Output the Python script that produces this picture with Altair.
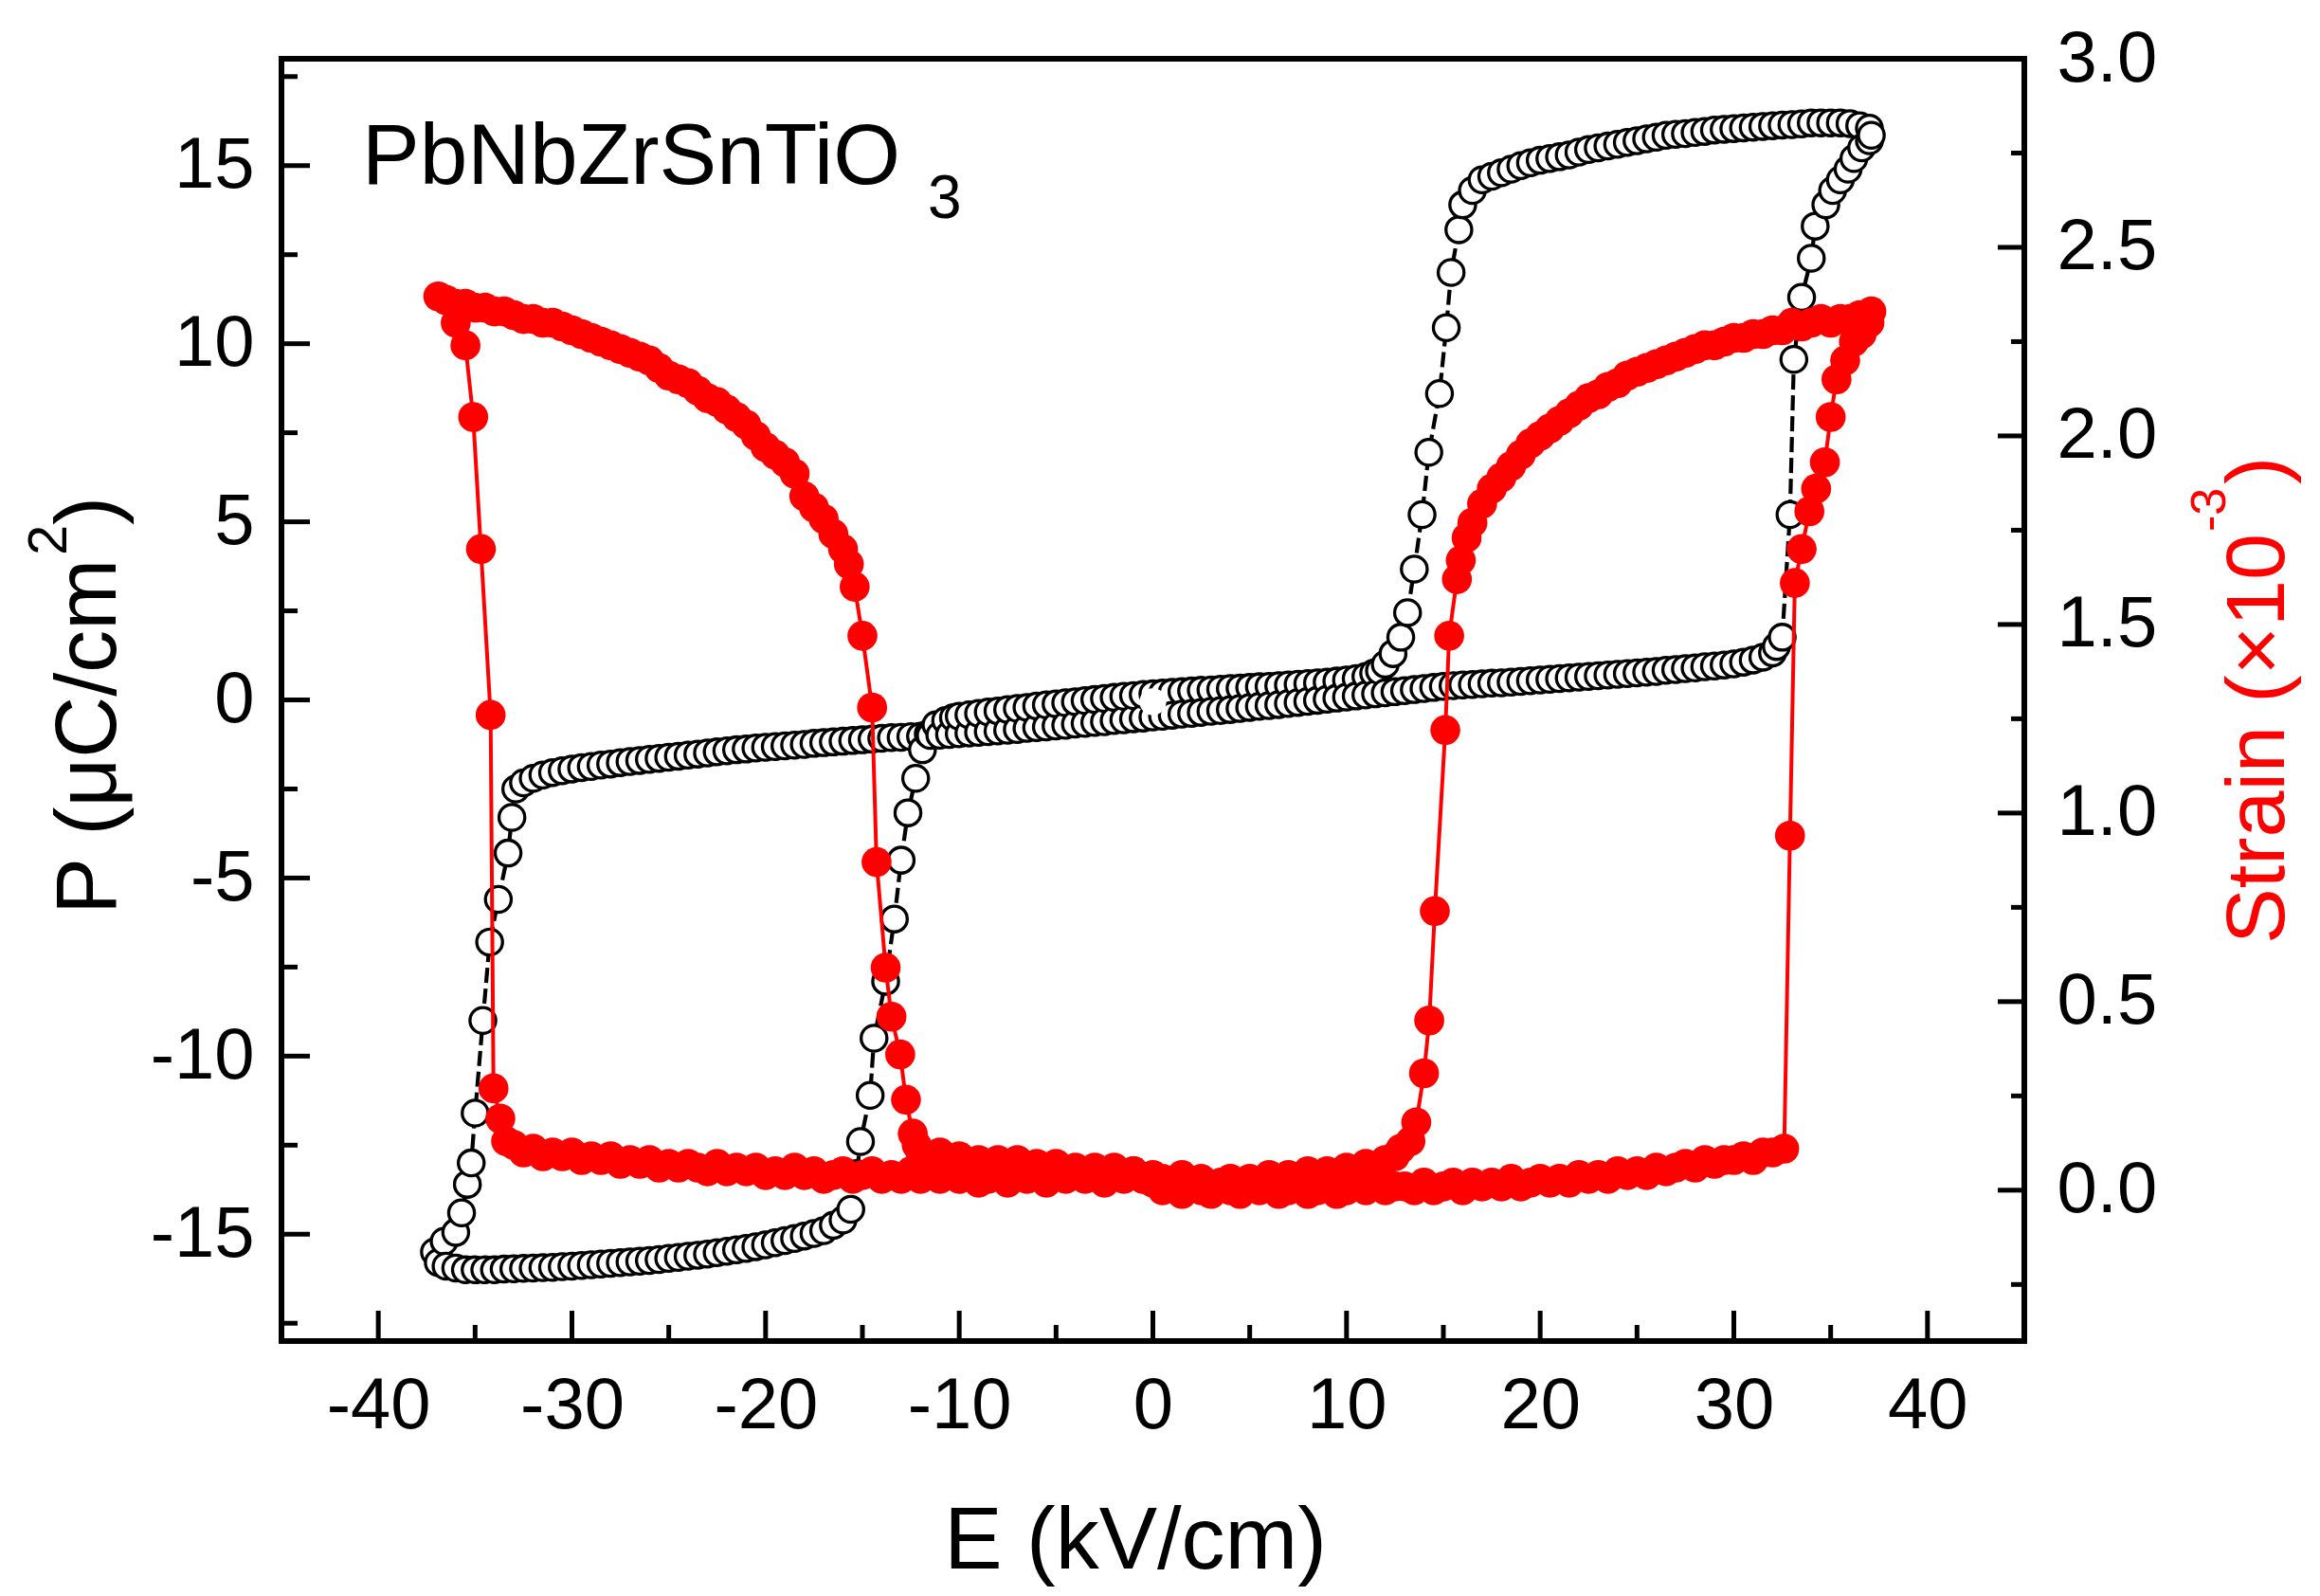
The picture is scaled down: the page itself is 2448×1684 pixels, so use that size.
import altair as alt
import pandas as pd

# ---------------- P-E loop (black open circles), path order ----------------
P_BAND_A_RIGHT = [(0, 0.17), (0.5, 0.19), (1, 0.21), (1.5, 0.23), (2, 0.25), (2.5, 0.27), (3, 0.28),
                  (3.5, 0.30), (4, 0.32), (4.5, 0.33), (5, 0.35), (5.5, 0.37), (6, 0.38), (6.5, 0.40),
                  (7, 0.42), (7.5, 0.44), (8, 0.46), (8.5, 0.48), (9, 0.50), (9.5, 0.53), (10, 0.56),
                  (10.5, 0.60), (11, 0.66), (11.4, 0.75)]
P_RIGHT_INNER = [(11.7, 0.82), (12.0, 1.0), (12.4, 1.3), (12.8, 1.76), (13.15, 2.45), (13.5, 3.67),
                 (13.9, 5.2), (14.25, 6.95), (14.8, 8.6), (15.15, 10.45), (15.4, 12.0), (15.8, 13.2),
                 (16.0, 13.9), (16.5, 14.3)]
P_TOP = [(17, 14.6), (17.5, 14.7), (18, 14.8), (18.5, 14.9), (19, 15.0), (19.5, 15.08), (20, 15.15),
         (20.5, 15.2), (21, 15.25), (21.5, 15.3), (22, 15.38), (22.5, 15.45), (23, 15.5), (23.5, 15.55),
         (24, 15.6), (24.5, 15.65), (25, 15.7), (25.5, 15.75), (26, 15.8), (26.5, 15.85), (27, 15.88),
         (27.5, 15.9), (28, 15.93), (28.5, 15.96), (29, 16.0), (29.5, 16.02), (30, 16.04), (30.5, 16.06),
         (31, 16.08), (31.5, 16.1), (32, 16.12), (32.5, 16.14), (33, 16.15), (33.5, 16.17), (34, 16.2),
         (34.5, 16.2), (35, 16.2), (35.5, 16.2), (36, 16.18), (36.5, 16.12), (37, 16.05)]
P_RIGHT_OUTER = [(37.1, 15.85), (37.0, 15.7), (36.6, 15.5), (36.2, 15.2), (35.9, 14.9), (35.5, 14.6),
                 (35.1, 14.3), (34.75, 13.9), (34.2, 13.3), (34.0, 12.4), (33.5, 11.3), (33.1, 9.56),
                 (32.9, 5.2), (32.5, 1.76)]
P_BAND_B = [(32.2, 1.5), (32, 1.32), (31.5, 1.2), (31, 1.12), (30.5, 1.06), (30, 1.01), (29.5, 0.98),
            (29, 0.95), (28.5, 0.93), (28, 0.9), (27.5, 0.88), (27, 0.85), (26.5, 0.83), (26, 0.8),
            (25.5, 0.78), (25, 0.76), (24.5, 0.74), (24, 0.72), (23.5, 0.7), (23, 0.68), (22.5, 0.66),
            (22, 0.64), (21.5, 0.62), (21, 0.6), (20.5, 0.58), (20, 0.56), (19.5, 0.54), (19, 0.52),
            (18.5, 0.5), (18, 0.48), (17.5, 0.47), (17, 0.45), (16.5, 0.43), (16, 0.42), (15.5, 0.4),
            (15, 0.38), (14.5, 0.35), (14, 0.32), (13.5, 0.29), (13, 0.26), (12.5, 0.23), (12, 0.2),
            (11.5, 0.17), (11, 0.14), (10.5, 0.11), (10, 0.08), (9.5, 0.05), (9, 0.02), (8.5, -0.01),
            (8, -0.04), (7.5, -0.07), (7, -0.1), (6.5, -0.13), (6, -0.16), (5.5, -0.18), (5, -0.21),
            (4.5, -0.24), (4, -0.27), (3.5, -0.3), (3, -0.32), (2.5, -0.35), (2, -0.38), (1.5, -0.4),
            (1, -0.43), (0.5, -0.46), (0, -0.48), (-0.5, -0.51), (-1, -0.53), (-1.5, -0.56), (-2, -0.58),
            (-2.5, -0.61), (-3, -0.63), (-3.5, -0.66), (-4, -0.68), (-4.5, -0.71), (-5, -0.73),
            (-5.5, -0.76), (-6, -0.78), (-6.5, -0.8), (-7, -0.83), (-7.5, -0.85), (-8, -0.87),
            (-8.5, -0.89), (-9, -0.91), (-9.5, -0.93), (-10, -0.95), (-10.5, -0.97), (-11, -0.99),
            (-11.5, -1.0), (-12, -1.02), (-12.5, -1.03), (-13, -1.05), (-13.5, -1.06), (-14, -1.08),
            (-14.5, -1.1), (-15, -1.12), (-15.5, -1.14), (-16, -1.16), (-16.5, -1.18), (-17, -1.2),
            (-17.5, -1.22), (-18, -1.25), (-18.5, -1.27), (-19, -1.29), (-19.5, -1.31), (-20, -1.33),
            (-20.5, -1.35), (-21, -1.38), (-21.5, -1.4), (-22, -1.43), (-22.5, -1.46), (-23, -1.49),
            (-23.5, -1.52), (-24, -1.55), (-24.5, -1.58), (-25, -1.61), (-25.5, -1.64), (-26, -1.67),
            (-26.5, -1.7), (-27, -1.73), (-27.5, -1.76), (-28, -1.8), (-28.5, -1.83), (-29, -1.87),
            (-29.5, -1.9), (-30, -1.94), (-30.5, -1.99), (-31, -2.04), (-31.5, -2.11), (-32, -2.2),
            (-32.5, -2.33), (-32.9, -2.5)]
P_LEFT_OUTER = [(-33.1, -3.3), (-33.3, -4.3), (-33.8, -5.6), (-34.25, -6.8), (-34.6, -9.0), (-35.0, -11.6),
                (-35.2, -13.0), (-35.4, -13.6), (-35.7, -14.4), (-36.0, -14.95), (-36.6, -15.2), (-37.1, -15.5)]
P_BOTTOM = [(-36.9, -15.8), (-36.5, -15.9), (-36, -15.95), (-35.5, -16.0), (-35, -16.0), (-34.5, -16.0),
            (-34, -16.0), (-33.5, -15.98), (-33, -15.97), (-32.5, -15.96), (-32, -15.95), (-31.5, -15.94),
            (-31, -15.93), (-30.5, -15.91), (-30, -15.9), (-29.5, -15.88), (-29, -15.86), (-28.5, -15.84),
            (-28, -15.82), (-27.5, -15.8), (-27, -15.78), (-26.5, -15.76), (-26, -15.74), (-25.5, -15.71),
            (-25, -15.68), (-24.5, -15.65), (-24, -15.62), (-23.5, -15.59), (-23, -15.56), (-22.5, -15.52),
            (-22, -15.48), (-21.5, -15.44), (-21, -15.4), (-20.5, -15.35), (-20, -15.3), (-19.5, -15.24),
            (-19, -15.18), (-18.5, -15.12), (-18, -15.05), (-17.5, -14.98), (-17, -14.9), (-16.5, -14.75),
            (-16, -14.6)]
P_LEFT_INNER = [(-15.6, -14.3), (-15.3, -13.3), (-15.1, -12.4), (-14.6, -11.1), (-14.4, -9.5), (-13.8, -7.9),
                (-13.35, -6.15), (-13.0, -4.5), (-12.65, -3.17), (-12.25, -2.2), (-11.9, -1.4),
                (-11.6, -0.95), (-11.2, -0.7)]
P_BAND_A_LEFT = [(-10.7, -0.58), (-10.3, -0.5), (-10, -0.46), (-9.5, -0.42), (-9, -0.38), (-8.5, -0.34),
                 (-8, -0.31), (-7.5, -0.27), (-7, -0.24), (-6.5, -0.21), (-6, -0.17), (-5.5, -0.14),
                 (-5, -0.11), (-4.5, -0.08), (-4, -0.05), (-3.5, -0.02), (-3, 0.01), (-2.5, 0.04),
                 (-2, 0.07), (-1.5, 0.1), (-1, 0.12), (-0.5, 0.15)]
P_START = [(0, -0.05)]

# ---------------- Strain (red filled circles), path order ----------------
S_BOTTOM_UP = [(0, 0.02), (0.5, 0.0), (1, 0.01), (1.5, -0.01), (2, 0.01), (2.5, 0.0), (3, -0.01), (3.5, 0.01),
               (4, 0.0), (4.5, -0.01), (5, 0.01), (5.5, 0.0), (6, 0.01), (6.5, -0.01), (7, 0.0), (7.5, 0.01),
               (8, -0.01), (8.5, 0.0), (9, 0.01), (9.5, -0.01), (10, 0.0), (10.5, 0.01), (11, 0.0),
               (11.5, 0.02), (12, 0.0), (12.5, 0.01), (13, 0.01), (13.5, 0.0), (14, 0.02), (14.5, 0.0),
               (15, 0.01), (15.5, 0.02), (16, 0.0), (16.5, 0.02), (17, 0.01), (17.5, 0.02), (18, 0.01),
               (18.5, 0.03), (19, 0.01), (19.5, 0.02), (20, 0.03), (20.5, 0.02), (21, 0.03), (21.5, 0.02),
               (22, 0.04), (22.5, 0.03), (23, 0.04), (23.5, 0.03), (24, 0.05), (24.5, 0.04), (25, 0.05),
               (25.5, 0.04), (26, 0.06), (26.5, 0.05), (27, 0.06), (27.5, 0.07), (28, 0.06), (28.5, 0.08),
               (29, 0.07), (29.5, 0.08), (30, 0.08), (30.5, 0.09), (31, 0.08), (31.5, 0.1), (32, 0.1),
               (32.6, 0.11)]
S_RIGHT_OUTER = [(32.9, 0.94), (33.15, 1.61), (33.5, 1.70), (33.9, 1.8), (34.25, 1.86), (34.7, 1.93),
                 (35.0, 2.05), (35.3, 2.15), (35.75, 2.2), (36.2, 2.25), (36.6, 2.27), (37.0, 2.3), (37.1, 2.33)]
S_RIGHT_UPPER = [(36.8, 2.31), (36.5, 2.32), (36, 2.31), (35.5, 2.31), (35, 2.3), (34.5, 2.31), (34, 2.3),
                 (33.5, 2.29), (33, 2.3), (32.5, 2.28), (32, 2.28), (31.5, 2.27), (31, 2.27), (30.5, 2.26),
                 (30, 2.26), (29.5, 2.25), (29, 2.24), (28.5, 2.24), (28, 2.23), (27.5, 2.22), (27, 2.21),
                 (26.5, 2.2), (26, 2.19), (25.5, 2.18), (25, 2.17), (24.5, 2.16), (24, 2.14), (23.5, 2.13),
                 (23, 2.11), (22.5, 2.1), (22, 2.08), (21.5, 2.06), (21, 2.04), (20.5, 2.02), (20, 2.0),
                 (19.5, 1.98), (19, 1.95), (18.5, 1.92), (18, 1.89), (17.5, 1.86), (17, 1.82), (16.5, 1.77),
                 (16.2, 1.73), (15.9, 1.67), (15.7, 1.62)]
S_RIGHT_DROP = [(15.3, 1.47), (15.1, 1.22), (14.56, 0.74), (14.27, 0.45), (14.0, 0.31), (13.6, 0.18),
                (13.3, 0.13)]
S_BOTTOM_DOWN = [(12.8, 0.11), (12.5, 0.09), (12, 0.08), (11.5, 0.06), (11, 0.07), (10.5, 0.05), (10, 0.06),
                 (9.5, 0.04), (9, 0.05), (8.5, 0.03), (8, 0.05), (7.5, 0.03), (7, 0.04), (6.5, 0.02),
                 (6, 0.04), (5.5, 0.02), (5, 0.03), (4.5, 0.01), (4, 0.03), (3.5, 0.02), (3, 0.01),
                 (2.5, 0.03), (2, 0.02), (1.5, 0.04), (1, 0.02), (0.5, 0.03), (0, 0.04), (-0.5, 0.03),
                 (-1, 0.05), (-1.5, 0.03), (-2, 0.04), (-2.5, 0.02), (-3, 0.04), (-3.5, 0.03), (-4, 0.05),
                 (-4.5, 0.03), (-5, 0.04), (-5.5, 0.02), (-6, 0.04), (-6.5, 0.03), (-7, 0.05), (-7.5, 0.02),
                 (-8, 0.04), (-8.5, 0.03), (-9, 0.02), (-9.5, 0.04), (-10, 0.03), (-10.5, 0.05), (-11, 0.03),
                 (-11.5, 0.04), (-12, 0.03), (-12.5, 0.05), (-13, 0.03), (-13.5, 0.04), (-14, 0.03),
                 (-14.5, 0.05), (-15, 0.04), (-15.5, 0.03), (-16, 0.05), (-16.5, 0.04), (-17, 0.03),
                 (-17.5, 0.05), (-18, 0.04), (-18.5, 0.06), (-19, 0.04), (-19.5, 0.05), (-20, 0.04),
                 (-20.5, 0.06), (-21, 0.05), (-21.5, 0.06), (-22, 0.05), (-22.5, 0.07), (-23, 0.05),
                 (-23.5, 0.06), (-24, 0.07), (-24.5, 0.06), (-25, 0.07), (-25.5, 0.06), (-26, 0.08),
                 (-26.5, 0.07), (-27, 0.08), (-27.5, 0.07), (-28, 0.09), (-28.5, 0.08), (-29, 0.09),
                 (-29.5, 0.08), (-30, 0.1), (-30.5, 0.09), (-31, 0.1), (-31.5, 0.09), (-32, 0.11),
                 (-32.5, 0.1), (-33, 0.12), (-33.4, 0.13)]
S_LEFT_OUTER = [(-33.7, 0.19), (-34.05, 0.27), (-34.2, 1.26), (-34.7, 1.70), (-35.1, 2.05), (-35.5, 2.24),
                (-36.0, 2.3), (-36.5, 2.36), (-36.9, 2.37)]
S_LEFT_UPPER = [(-36.5, 2.36), (-36, 2.35), (-35.5, 2.35), (-35, 2.34), (-34.5, 2.34), (-34, 2.33),
                (-33.5, 2.33), (-33, 2.32), (-32.5, 2.31), (-32, 2.31), (-31.5, 2.3), (-31, 2.3),
                (-30.5, 2.29), (-30, 2.28), (-29.5, 2.27), (-29, 2.26), (-28.5, 2.25), (-28, 2.24),
                (-27.5, 2.23), (-27, 2.22), (-26.5, 2.21), (-26, 2.2), (-25.5, 2.18), (-25, 2.16),
                (-24.5, 2.15), (-24, 2.14), (-23.5, 2.12), (-23, 2.1), (-22.5, 2.09), (-22, 2.07),
                (-21.5, 2.05), (-21, 2.03), (-20.5, 2.0), (-20, 1.97), (-19.5, 1.95), (-19, 1.93),
                (-18.5, 1.9), (-18, 1.84), (-17.5, 1.81), (-17, 1.78), (-16.5, 1.74), (-16, 1.7),
                (-15.7, 1.66), (-15.4, 1.6)]
S_LEFT_DROP = [(-15.0, 1.47), (-14.5, 1.28), (-14.27, 0.87), (-13.8, 0.59), (-13.5, 0.46), (-13.05, 0.36),
               (-12.75, 0.24), (-12.4, 0.15)]
S_BOTTOM_RETURN = [(-12.2, 0.12), (-12, 0.1), (-11.5, 0.09), (-11, 0.1), (-10.5, 0.08), (-10, 0.09),
                   (-9.5, 0.07), (-9, 0.08), (-8.5, 0.07), (-8, 0.08), (-7.5, 0.06), (-7, 0.08), (-6.5, 0.06),
                   (-6, 0.07), (-5.5, 0.05), (-5, 0.07), (-4.5, 0.05), (-4, 0.06), (-3.5, 0.05), (-3, 0.06),
                   (-2.5, 0.04), (-2, 0.06), (-1.5, 0.04), (-1, 0.05), (-0.5, 0.03)]

# ---------------- axis ticks / labels ----------------
X_LABELS = [-40, -30, -20, -10, 0, 10, 20, 30, 40]
X_MINOR = [-35, -25, -15, -5, 5, 15, 25, 35]
P_LABELS = [-15, -10, -5, 0, 5, 10, 15]
P_MINOR = [-17.5, -12.5, -7.5, -2.5, 2.5, 7.5, 12.5, 17.5]
S_LABELS = [0.0, 0.5, 1.0, 1.5, 2.0, 2.5, 3.0]
S_MINOR = [-0.25, 0.25, 0.75, 1.25, 1.75, 2.25, 2.75]

FONT = "Liberation Sans"
W, H = 1839, 1353
RED = "#ff0000"


def path_df(segments, col):
    rows = []
    for seg in segments:
        for e, v in seg:
            rows.append({"E": e, col: v})
    df = pd.DataFrame(rows)
    df["o"] = range(len(df))
    return df


p_df = path_df([P_BAND_A_RIGHT, P_RIGHT_INNER, P_TOP, P_RIGHT_OUTER, P_BAND_B, P_LEFT_OUTER,
                P_BOTTOM, P_LEFT_INNER, P_BAND_A_LEFT], "P")
p_pts_df = p_df.sort_values("E", kind="stable").reset_index(drop=True)
start_df = pd.DataFrame({"E": [e for e, _ in P_START], "P": [v for _, v in P_START]})
s_df = path_df([S_BOTTOM_UP, S_RIGHT_OUTER, S_RIGHT_UPPER, S_RIGHT_DROP, S_BOTTOM_DOWN, S_LEFT_OUTER,
                S_LEFT_UPPER, S_LEFT_DROP, S_BOTTOM_RETURN], "S")

x_scale = alt.Scale(domain=[-45, 45], nice=False, zero=False)
p_scale = alt.Scale(domain=[-18, 18], nice=False, zero=False)
s_scale = alt.Scale(domain=[-0.4, 3.0], nice=False, zero=False)

x_axis = alt.Axis(values=X_LABELS, labelExpr="'' + datum.value", ticks=False, tickSize=0, domain=False,
                  grid=False, title=None, labelPadding=31, labelFontSize=76, labelFont=FONT, labelColor="black")
p_axis = alt.Axis(orient="left", values=P_LABELS, labelExpr="'' + datum.value", ticks=False, tickSize=0,
                  domain=False, grid=False, title=None, labelPadding=29, labelFontSize=76, labelFont=FONT,
                  labelColor="black")
s_axis = alt.Axis(orient="right", values=S_LABELS, labelExpr="format(datum.value, '.1f')", ticks=False,
                  tickSize=0, domain=False, grid=False, title=None, labelPadding=34, labelFontSize=76,
                  labelFont=FONT, labelColor="black")

X = alt.X("E:Q", scale=x_scale, axis=x_axis)
PY = alt.Y("P:Q", scale=p_scale, axis=p_axis)

# ---- P group ----
p_line = alt.Chart(p_df).mark_line(color="black", strokeWidth=4.2, strokeDash=[16, 6]).encode(
    x=X, y=PY, order="o:Q")
p_pts = alt.Chart(p_pts_df).mark_circle(fill="white", stroke="black", strokeWidth=3.3, size=740,
                                        opacity=1, fillOpacity=1).encode(x=X, y=PY)
p_start = alt.Chart(start_df).mark_circle(color="white", size=800, opacity=1).encode(x=X, y=PY)

xt_major = alt.Chart(pd.DataFrame({"E": X_LABELS})).mark_rule(color="black", strokeWidth=5).encode(
    x=X, y=alt.value(H), y2=alt.value(H - 32))
xt_minor = alt.Chart(pd.DataFrame({"E": X_MINOR})).mark_rule(color="black", strokeWidth=5).encode(
    x=X, y=alt.value(H), y2=alt.value(H - 17))
pt_major = alt.Chart(pd.DataFrame({"P": P_LABELS})).mark_rule(color="black", strokeWidth=5).encode(
    y=PY, x=alt.value(0), x2=alt.value(30))
pt_minor = alt.Chart(pd.DataFrame({"P": P_MINOR})).mark_rule(color="black", strokeWidth=5).encode(
    y=PY, x=alt.value(0), x2=alt.value(17))


def text_layer(txt, x, y, size, color="black", angle=0, align="left"):
    return alt.Chart(pd.DataFrame({"t": [txt]})).mark_text(
        font=FONT, fontSize=size, color=color, angle=angle, align=align, baseline="alphabetic").encode(
        text="t:N", x=alt.value(x), y=alt.value(y))


title_main = text_layer("PbNbZrSnTiO", 85, 132, 91)
title_sub = text_layer("3", 682, 168, 64)
x_title = text_layer("E (kV/cm)", 901, 1593, 92, align="center")
# left title, rotated (reads bottom to top), with a raised superscript
p_title_a = text_layer("P (\u03bcC/cm", -175, 903, 90, angle=270)
p_title_b = text_layer("2", -227, 524, 58, angle=270)
p_title_c = text_layer(")", -175, 492, 90, angle=270)
# right title, rotated, red
s_title_a = text_layer("Strain (\u00d710", 2113, 934, 88, color=RED, angle=270)
s_title_b = text_layer("-3", 2051, 499, 52, color=RED, angle=270)
s_title_c = text_layer(")", 2113, 449, 88, color=RED, angle=270)

p_group = alt.layer(p_line, p_pts, p_start, xt_major, xt_minor, pt_major, pt_minor,
                    title_main, title_sub, x_title, p_title_a, p_title_b, p_title_c,
                    s_title_a, s_title_b, s_title_c)

# ---- Strain group ----
SY = alt.Y("S:Q", scale=s_scale, axis=s_axis)
s_line = alt.Chart(s_df).mark_line(color=RED, strokeWidth=4).encode(x=X, y=SY, order="o:Q")
s_pts = alt.Chart(s_df).mark_circle(color=RED, size=1000, opacity=1).encode(x=X, y=SY)
st_major = alt.Chart(pd.DataFrame({"S": S_LABELS})).mark_rule(color="black", strokeWidth=5).encode(
    y=SY, x=alt.value(W), x2=alt.value(W - 28))
st_minor = alt.Chart(pd.DataFrame({"S": S_MINOR})).mark_rule(color="black", strokeWidth=5).encode(
    y=SY, x=alt.value(W), x2=alt.value(W - 14))
s_group = alt.layer(s_line, s_pts, st_major, st_minor)

chart = alt.layer(p_group, s_group).resolve_scale(y="independent").properties(
    width=W, height=H,
    autosize=alt.AutoSizeParams(type="none"),
    padding={"left": 289, "top": 54, "right": 304, "bottom": 260},
    background="white",
).configure_view(stroke="black", strokeWidth=6)

chart.save("out.html", embed_options={"renderer": "svg", "actions": False})
